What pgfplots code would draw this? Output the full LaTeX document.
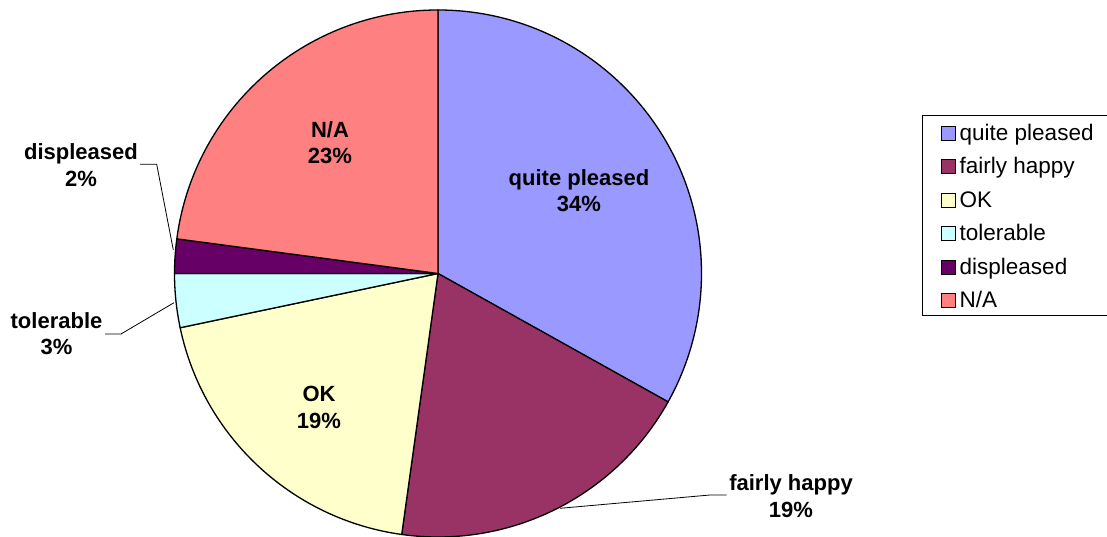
\documentclass[border=0pt]{standalone}
\usepackage{pgfplots}
\pgfplotsset{compat=1.18}
\usepackage{pgfplotstable}
\usepackage{fontspec}
\setmainfont{Liberation Sans}
\definecolor{cQP}{HTML}{9999FF}
\definecolor{cFH}{HTML}{993366}
\definecolor{cOK}{HTML}{FFFFCC}
\definecolor{cTO}{HTML}{CCFFFF}
\definecolor{cDI}{HTML}{660066}
\definecolor{cNA}{HTML}{FF8080}

% value = slice size, pct = printed label, lx/ly = label centre (px)
\pgfplotstableread[col sep=comma]{
name,value,pct,color,lx,ly
quite pleased,33.1,34,cQP,579,346.5
fairly happy,19.1,19,cFH,791,41
OK,19.5,19,cOK,319,129.5
tolerable,3.3,3,cTO,56.5,203.5
displeased,2.1,2,cDI,81,372
N/A,22.9,23,cNA,330,394.5
}\piedata

\pgfplotsset{sq legend/.style={legend image code/.code={%
  \path (0bp,0bp);
  \draw[##1, line width=0.8bp] (5.1bp,-8.5bp) rectangle (19.1bp,5.5bp);}}}
\tikzset{lbl/.style={align=center, font=\bfseries\fontsize{22bp}{26.5bp}\selectfont, inner sep=0pt}}

\begin{document}
\begin{tikzpicture}
\begin{axis}[
  at={(0,0)}, anchor=south west,
  width=1107bp, height=537bp, scale only axis,
  xmin=0, xmax=1107, ymin=0, ymax=537,
  hide axis, clip=false,
  legend cell align=left,
  legend style={at={(axis cs:921.7,422)}, anchor=north west,
    draw=black, line width=0.8bp, fill=white,
    font=\fontsize{22.5bp}{26bp}\selectfont,
    inner xsep=13.7bp, inner ysep=5.75bp, row sep=12.5bp,
    nodes={inner sep=0bp, text height=19bp, text depth=2bp},
    /tikz/every odd column/.append style={column sep=4bp}},
]
\pgfplotstablegetrowsof{\piedata}
\pgfmathtruncatemacro\N{\pgfplotsretval-1}
\def\cum{0}
\pgfplotsforeachungrouped \i in {0,...,\N}{%
  \pgfplotstablegetelem{\i}{value}\of\piedata \let\v\pgfplotsretval
  \pgfplotstablegetelem{\i}{color}\of\piedata \let\c\pgfplotsretval
  \pgfmathsetmacro\a{90-3.6*\cum}%
  \pgfmathsetmacro\b{90-3.6*(\cum+\v)}%
  \edef\temp{\noexpand\filldraw[fill=\c, draw=black, line width=1.3bp, line join=round]
    (axis cs:438,263.5) -- ++(\a:263.5bp) arc[start angle=\a, end angle=\b, radius=263.5bp] -- cycle;}%
  \temp
  \pgfmathsetmacro\cum{\cum+\v}%
}
\pgfplotsforeachungrouped \i in {0,...,\N}{%
  \pgfplotstablegetelem{\i}{name}\of\piedata \let\nm\pgfplotsretval
  \pgfplotstablegetelem{\i}{pct}\of\piedata \let\p\pgfplotsretval
  \pgfplotstablegetelem{\i}{lx}\of\piedata \let\lx\pgfplotsretval
  \pgfplotstablegetelem{\i}{ly}\of\piedata \let\ly\pgfplotsretval
  \edef\temp{\noexpand\node[lbl] at (axis cs:\lx,\ly) {\nm\noexpand\\\p\noexpand\%};}%
  \temp
}
% leader lines
\draw[line width=0.8bp] (axis cs:140,372.7) -- (axis cs:156.7,372.7) -- (axis cs:173.3,287);
\draw[line width=0.8bp] (axis cs:105,203) -- (axis cs:121,203) -- (axis cs:174,234.3);
\draw[line width=0.8bp] (axis cs:560,28.7) -- (axis cs:710,42) -- (axis cs:726.7,42);

\addlegendimage{sq legend, fill=cQP, draw=black}\addlegendentry{quite pleased}
\addlegendimage{sq legend, fill=cFH, draw=black}\addlegendentry{fairly happy}
\addlegendimage{sq legend, fill=cOK, draw=black}\addlegendentry{OK}
\addlegendimage{sq legend, fill=cTO, draw=black}\addlegendentry{tolerable}
\addlegendimage{sq legend, fill=cDI, draw=black}\addlegendentry{displeased}
\addlegendimage{sq legend, fill=cNA, draw=black}\addlegendentry{N/A}
\end{axis}
\pgfresetboundingbox
\path (0,0) rectangle (1107bp,537bp);
\end{tikzpicture}
\end{document}
